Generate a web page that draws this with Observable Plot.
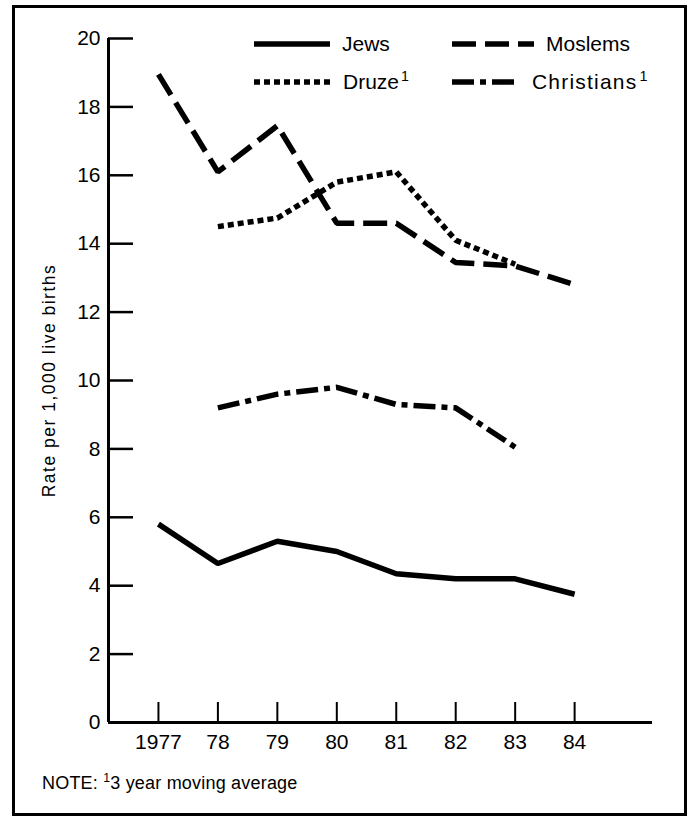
<!DOCTYPE html>
<html>
<head>
<meta charset="utf-8">
<script src="https://cdn.jsdelivr.net/npm/d3@7"></script>
<script src="https://cdn.jsdelivr.net/npm/@observablehq/plot@0.6"></script>
<style>
  html, body { margin: 0; padding: 0; background: #fff; }
  #page { position: relative; width: 690px; height: 821px; font-family: "Liberation Sans", Arial, Helvetica, sans-serif; color: #000; overflow: hidden; }
  #frame { position: absolute; left: 12px; top: 5px; width: 669px; height: 805px; border: 3px solid #000; box-sizing: content-box; }
  #chart { position: absolute; left: 0; top: 0; }
  #chart g[aria-label="y-axis label"] text { letter-spacing: 1.5px; }
  .leg { position: absolute; display: flex; align-items: center; font-size: 21px; }
  .leg svg { margin-right: 12px; }
  sup { font-size: 0.68em; vertical-align: 0; position: relative; top: -0.55em; margin-left: 2px; }
  #note { position: absolute; left: 42px; top: 773px; font-size: 18px; letter-spacing: 0.2px; }
</style>
</head>
<body>
<div id="page">
  <div id="frame"></div>
  <div id="chart"></div>
  <div id="legend"></div>
  <div id="note">NOTE: <sup style="margin-left:0">1</sup>3 year moving average</div>
</div>
<script>
// ---- data ----
const years = [1977, 1978, 1979, 1980, 1981, 1982, 1983, 1984];
const yearLabels = ["1977", "78", "79", "80", "81", "82", "83", "84"];
const jews = [5.8, 4.65, 5.3, 5.0, 4.35, 4.2, 4.2, 3.75];
const moslems = [18.95, 16.1, 17.45, 14.6, 14.6, 13.45, 13.35, 12.8];
const avgYears = [1978, 1979, 1980, 1981, 1982, 1983];
const druze = [14.5, 14.75, 15.8, 16.1, 14.1, 13.4];
const christians = [9.2, 9.6, 9.8, 9.3, 9.2, 8.05];
const yTicks = [0, 2, 4, 6, 8, 10, 12, 14, 16, 18, 20];
const seriesNames = ["Jews", "Moslems", "Druze", "Christians"];
const seriesSup = [false, false, true, true];
const yLabel = "Rate per 1,000 live births";

// ---- styles ----
const dashes = {
  Jews: null,
  Moslems: "24,9",
  Druze: "6,4",
  Christians: "22,6,6,6"
};

const rows = [];
years.forEach((yr, i) => rows.push({series: "Jews", year: yr, value: jews[i]}));
years.forEach((yr, i) => rows.push({series: "Moslems", year: yr, value: moslems[i]}));
avgYears.forEach((yr, i) => rows.push({series: "Druze", year: yr, value: druze[i]}));
avgYears.forEach((yr, i) => rows.push({series: "Christians", year: yr, value: christians[i]}));

const xDomain = [1976.16, 1985.31];
const lineMarks = seriesNames.map(s => Plot.line(rows.filter(d => d.series === s), {
  x: "year", y: "value", stroke: "#000", strokeWidth: 5.5,
  strokeDasharray: dashes[s], strokeLinejoin: "miter", strokeLinecap: "butt"
}));

const chart = Plot.plot({
  width: 690,
  height: 762,
  marginLeft: 108,
  marginRight: 38,
  marginTop: 38,
  marginBottom: 40,
  style: {fontFamily: "'Liberation Sans', Arial, Helvetica, sans-serif", fontSize: "21px", color: "#000", background: "transparent"},
  x: {domain: xDomain},
  y: {domain: [0, 20]},
  marks: [
    Plot.axisY({ticks: yTicks, tickSize: 0, tickPadding: 8, fontSize: 21, label: null}),
    Plot.axisY({ticks: yTicks, tickSize: 0, tickFormat: () => "", fontSize: 17.5, label: yLabel, labelAnchor: "center", labelOffset: 66, labelArrow: "none"}),
    Plot.axisY({ticks: yTicks, tickSize: -25, strokeWidth: 2.5, tickFormat: () => "", label: null}),
    Plot.axisX({ticks: years, tickSize: 0, tickPadding: 12, fontSize: 21, tickFormat: d => yearLabels[years.indexOf(d)], label: null}),
    Plot.axisX({ticks: years, tickSize: -20, strokeWidth: 2, tickFormat: () => "", label: null}),
    Plot.ruleX([xDomain[0]], {stroke: "#000", strokeWidth: 3}),
    Plot.ruleY([0], {stroke: "#000", strokeWidth: 3}),
    ...lineMarks
  ]
});
document.getElementById("chart").appendChild(chart);

// ---- legend (HTML) ----
const legendPos = {
  Jews: [254, 31],
  Moslems: [452, 31],
  Druze: [254, 69],
  Christians: [452, 69]
};
const sampleW = {Jews: 76, Moslems: 82, Druze: 77, Christians: 68};
const legend = document.getElementById("legend");
seriesNames.forEach((s, i) => {
  const div = document.createElement("div");
  div.className = "leg";
  div.style.left = legendPos[s][0] + "px";
  div.style.top = legendPos[s][1] + "px";
  if (s === "Christians") div.style.letterSpacing = "1.2px";
  const w = sampleW[s];
  const dash = dashes[s] ? ` stroke-dasharray="${dashes[s]}"` : "";
  div.innerHTML = `<svg width="${w}" height="26"><line x1="0" x2="${w}" y1="13" y2="13" stroke="#000" stroke-width="5.5"${dash}/></svg><span>${s}${seriesSup[i] ? "<sup>1</sup>" : ""}</span>`;
  legend.appendChild(div);
});
</script>
</body>
</html>
